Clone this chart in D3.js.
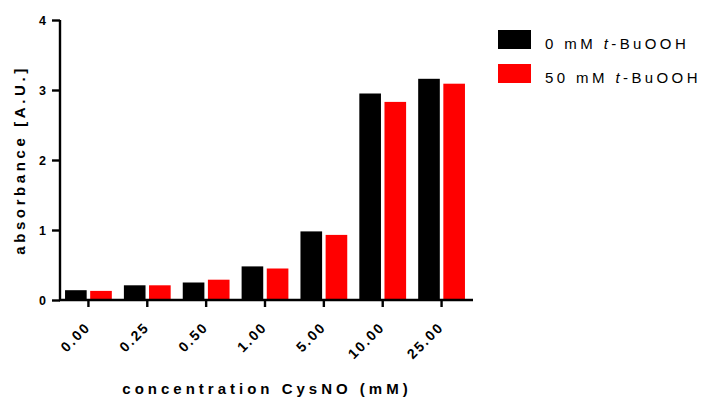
<!DOCTYPE html>
<html>
<head>
<meta charset="utf-8">
<script src="https://cdn.jsdelivr.net/npm/d3@7"></script>
<style>
  html, body { margin: 0; padding: 0; background: #fff; }
  svg { display: block; font-family: "Liberation Sans", Arial, sans-serif; }
</style>
</head>
<body>
<svg id="chart" width="706" height="399"></svg>
<script>
// CysNO concentrations (mM) along the x axis
const categories = ["0.00", "0.25", "0.50", "1.00", "5.00", "10.00", "25.00"];
// Absorbance readings for each t-BuOOH treatment
const series0mM  = [0.14, 0.21, 0.25, 0.48, 0.98, 2.95, 3.16];
const series50mM = [0.13, 0.21, 0.29, 0.45, 0.93, 2.83, 3.09];
const seriesNames = ["0 mM", "50 mM"];
const seriesColors = ["#000000", "#ff0000"];
const yTicks = [0, 1, 2, 3, 4];

const series = [series0mM, series50mM];
const svg = d3.select("#chart");

const x = d3.scaleBand().domain(categories).range([59, 471]).paddingInner(0).paddingOuter(0);
const xInner = d3.scaleBand().domain([0, 1]).range([0, x.bandwidth()]).paddingInner(0.14).paddingOuter(0.24);
const y = d3.scaleLinear().domain([0, 4]).range([300, 20]);

// bars
const groups = svg.append("g").selectAll("g")
  .data(categories)
  .join("g")
  .attr("transform", d => `translate(${x(d)},0)`);

groups.selectAll("rect")
  .data((d, i) => series.map((s, k) => ({ k, v: s[i] })))
  .join("rect")
  .attr("x", d => xInner(d.k))
  .attr("width", xInner.bandwidth())
  .attr("y", d => y(d.v))
  .attr("height", d => y(0) - y(d.v))
  .attr("fill", d => seriesColors[d.k]);

// y axis
const yAxis = svg.append("g")
  .attr("transform", "translate(60,0)")
  .call(d3.axisLeft(y).tickValues(yTicks).tickFormat(d3.format("d")).tickSize(8).tickPadding(6));
yAxis.select(".domain").attr("stroke-width", 2.4).attr("d", `M0,${y(4)}V${y(0)}`);
yAxis.selectAll(".tick line").attr("stroke-width", 2.4);
yAxis.selectAll(".tick text")
  .attr("font-size", 12.5).attr("font-weight", "bold")
  .attr("font-family", "Liberation Sans, Arial, sans-serif").attr("fill", "#000");

// x axis
const xAxis = svg.append("g")
  .attr("transform", `translate(0,${y(0)})`)
  .call(d3.axisBottom(x).tickSize(7).tickSizeOuter(0));
xAxis.select(".domain").attr("stroke-width", 2.4).attr("d", "M59,0H473");
xAxis.selectAll(".tick line").attr("stroke-width", 2.4);
xAxis.selectAll(".tick text")
  .attr("font-size", 14).attr("font-weight", "bold")
  .attr("font-family", "Liberation Sans, Arial, sans-serif").attr("fill", "#000")
  .attr("letter-spacing", "2px")
  .attr("text-anchor", "end")
  .attr("dy", 0).attr("y", 0)
  .attr("transform", "translate(3,28) rotate(-45)");

// axis titles
svg.append("text")
  .attr("transform", `translate(25,${(y(0) + y(4)) / 2}) rotate(-90)`)
  .attr("text-anchor", "middle")
  .attr("font-size", 15).attr("font-weight", "bold")
  .attr("letter-spacing", "3.6px")
  .text("absorbance [A.U.]");

svg.append("text")
  .attr("x", 267).attr("y", 394)
  .attr("text-anchor", "middle")
  .attr("font-size", 15).attr("font-weight", "bold")
  .attr("letter-spacing", "4px")
  .text("concentration CysNO (mM)");

// legend
const legend = svg.append("g").selectAll("g")
  .data(seriesNames)
  .join("g")
  .attr("transform", (d, i) => `translate(498,${30 + i * 34})`);
legend.append("rect")
  .attr("width", 33).attr("height", 19)
  .attr("fill", (d, i) => seriesColors[i]);
const lt = legend.append("text")
  .attr("x", 47).attr("y", 18.5)
  .attr("font-size", 15)
  .attr("letter-spacing", "3.4px");
lt.append("tspan").text(d => d + " ");
lt.append("tspan").attr("font-style", "italic").text("t");
lt.append("tspan").text("-BuOOH");
</script>
</body>
</html>
